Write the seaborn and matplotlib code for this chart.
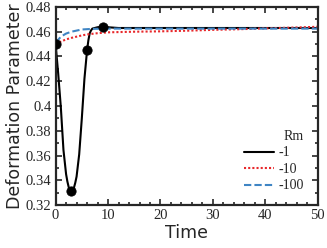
import seaborn as sns
import pandas as pd
import matplotlib
matplotlib.use("Agg")
import matplotlib.pyplot as plt
from matplotlib.ticker import MultipleLocator

# values
t_rm1 = [0, 0.5, 1, 1.5, 2, 2.25, 2.5, 2.75, 3, 3.25, 3.5, 3.75, 4, 4.5, 5, 5.5, 6, 6.25, 6.5, 6.75,
         7, 8, 9, 10, 12, 15, 20, 30, 40, 50]
v_rm1 = [0.450, 0.426, 0.399, 0.3645, 0.345, 0.339, 0.3345, 0.332, 0.331, 0.3315, 0.334, 0.338,
         0.343, 0.361, 0.390, 0.422, 0.445, 0.453, 0.4587, 0.461, 0.4625, 0.4636, 0.464, 0.4636,
         0.463, 0.463, 0.463, 0.463, 0.463, 0.463]

t_rm10 = [0, 1, 2, 3, 4, 5, 6, 8, 10, 15, 20, 25, 30, 35, 40, 45, 50]
v_rm10 = [0.450, 0.452, 0.4538, 0.455, 0.456, 0.457, 0.4578, 0.4588, 0.4595, 0.460, 0.4603,
          0.4608, 0.4615, 0.462, 0.4627, 0.4633, 0.464]

t_rm100 = [0, 0.5, 1, 2, 3, 5, 7, 10, 20, 30, 40, 50]
v_rm100 = [0.451, 0.4535, 0.456, 0.4585, 0.460, 0.4618, 0.4623, 0.4625, 0.4625, 0.4625, 0.4625, 0.4625]

marker_t = [0, 3, 6, 9]
marker_v = [0.450, 0.331, 0.445, 0.464]

sns.set_style("ticks")
plt.rcParams['font.family'] = ['DejaVu Sans']

fig = plt.figure(figsize=(3.27, 2.48), dpi=100)
ax = fig.add_axes([0.170, 0.173, 0.802, 0.799])

sns.lineplot(x=t_rm1, y=v_rm1, ax=ax, color="black", lw=1.5, label="-1")
sns.lineplot(x=t_rm10, y=v_rm10, ax=ax, color="#e8282b", lw=1.5, ls=(0, (1, 1)), label="-10")
sns.lineplot(x=t_rm100, y=v_rm100, ax=ax, color="#3f85c4", lw=1.5, ls=(0, (3.5, 1.5)), label="-100")
sns.scatterplot(x=marker_t, y=marker_v, ax=ax, color="black", s=45, zorder=5, edgecolor="black")

ax.set_xlim(0, 50)
ax.set_ylim(0.32, 0.48)
ax.xaxis.set_major_locator(MultipleLocator(10))
ax.xaxis.set_minor_locator(MultipleLocator(2))
ax.yaxis.set_minor_locator(MultipleLocator(0.01))
ax.set_yticks([0.32, 0.34, 0.36, 0.38, 0.4, 0.42, 0.44, 0.46, 0.48])
ax.set_yticklabels(["0.32", "0.34", "0.36", "0.38", "0.4", "0.42", "0.44", "0.46", "0.48"])

ax.tick_params(which="both", direction="in", top=True, right=True, color="#262626", width=1.2)
ax.tick_params(which="major", length=4, labelsize=10.5, pad=3)
ax.tick_params(which="minor", length=2)
for lab in ax.get_xticklabels() + ax.get_yticklabels():
    lab.set_family("Liberation Serif")
for s in ax.spines.values():
    s.set_visible(True)
    s.set_linewidth(1.6)
    s.set_color("#262626")

ax.set_xlabel("Time", fontsize=12.5, labelpad=1)
ax.set_ylabel("Deformation Parameter", fontsize=12.5, labelpad=1)

leg = ax.legend(title="Rm", loc="lower right", frameon=False, alignment="right",
                prop={"family": "Liberation Serif", "size": 10},
                handlelength=2.2, handletextpad=0.3, labelspacing=0.25,
                borderaxespad=0.3, bbox_to_anchor=(0.984, 0.015))
leg.get_title().set_family("Liberation Serif")
leg.get_title().set_fontsize(10)

plt.savefig("out.png", dpi=100)
